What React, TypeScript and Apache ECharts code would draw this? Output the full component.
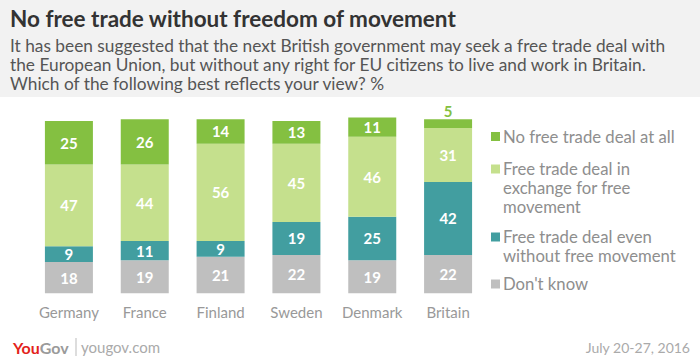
import React, { useEffect, useRef } from "react";
import * as echarts from "echarts";

const categories = ["Germany", "France", "Finland", "Sweden", "Denmark", "Britain"];
const seriesNames = [
  "No free trade deal at all",
  "Free trade deal in exchange for free movement",
  "Free trade deal even without free movement",
  "Don't know",
];
const noDeal = [25, 26, 14, 13, 11, 5];
const inExchange = [47, 44, 56, 45, 46, 31];
const evenWithout = [9, 11, 9, 19, 25, 42];
const dontKnow = [18, 19, 21, 22, 19, 22];
const legendLines = [
  ["No free trade deal at all"],
  ["Free trade deal in", "exchange for free", "movement"],
  ["Free trade deal even", "without free movement"],
  ["Don't know"],
];
const colors = ["#84c041", "#c5e08d", "#429ea0", "#bfbfbf"];
const FONT = "Lato, 'Open Sans', sans-serif";

export default function App() {
  const ref = useRef<HTMLDivElement>(null);
  useEffect(() => {
    if (!ref.current) return;
    const chart = echarts.init(ref.current, undefined, { renderer: "svg" });
    const stacks = [dontKnow, evenWithout, inExchange, noDeal];
    const stackColors = [colors[3], colors[2], colors[1], colors[0]];
    const stackNames = [seriesNames[3], seriesNames[2], seriesNames[1], seriesNames[0]];
    const series = stacks.map((arr, si) => ({
      name: stackNames[si],
      type: "bar",
      stack: "total",
      barWidth: 48,
      clip: false,
      itemStyle: { color: stackColors[si] },
      label: {
        show: true,
        position: "inside",
        color: "#ffffff",
        fontFamily: FONT,
        fontWeight: "bold",
        fontSize: 15,
      },
      data: arr.map((v) =>
        si === 3 && v < 8
          ? { value: v, label: { position: "top", distance: 1, color: colors[0] } }
          : v
      ),
    }));

    const legendGraphics: any[] = [];
    const legendTops = [136.5, 169, 237, 284];
    legendLines.forEach((lines, i) => {
      legendGraphics.push({
        type: "rect",
        shape: { x: 491, y: legendTops[i] - 4.5, width: 9, height: 9 },
        style: { fill: colors[i] },
      });
      legendGraphics.push({
        type: "text",
        x: 503,
        y: legendTops[i] - 9.5,
        style: {
          text: lines.join("\n"),
          fill: "#8e8e8e",
          font: `16.7px ${FONT}`,
          lineHeight: 19,
          verticalAlign: "top",
        },
      });
    });

    chart.setOption({
      animation: false,
      backgroundColor: "#ffffff",
      grid: { left: 31, right: 214, top: 119.3, bottom: 66.7, containLabel: false },
      xAxis: {
        type: "category",
        data: categories,
        axisLine: { show: false },
        axisTick: { show: false },
        axisLabel: {
          color: "#999999",
          fontFamily: FONT,
          fontSize: 15,
          margin: 11,
          interval: 0,
        },
      },
      yAxis: { type: "value", min: 0, max: 100, show: false },
      series,
      graphic: [
        {
          type: "rect",
          shape: { x: 0, y: 0, width: 700, height: 97 },
          style: { fill: "#f2f2f2" },
          z: -10,
        },
        {
          type: "text",
          x: 10,
          y: 7,
          style: {
            text: "No free trade without freedom of movement",
            fill: "#333333",
            font: `bold 22.5px ${FONT}`,
          },
        },
        {
          type: "text",
          x: 10,
          y: 36,
          style: {
            text:
              "It has been suggested that the next British government may seek a free trade deal with\nthe European Union, but without any right for EU citizens to live and work in Britain.\nWhich of the following best reflects your view? %",
            fill: "#555555",
            font: `17.3px ${FONT}`,
            lineHeight: 19,
          },
        },
        ...legendGraphics,
        {
          type: "text",
          x: 13,
          y: 347,
          style: {
            text: "{you|You}{gov|Gov}",
            verticalAlign: "middle",
            rich: {
              you: { fill: "#e3231b", font: `bold 16px ${FONT}` },
              gov: { fill: "#9a9a9a", font: `bold 16px ${FONT}` },
            },
          },
        },
        {
          type: "line",
          shape: { x1: 76, y1: 338, x2: 76, y2: 356 },
          style: { stroke: "#bbbbbb", lineWidth: 1 },
        },
        {
          type: "text",
          x: 81,
          y: 347,
          style: {
            text: "yougov.com",
            fill: "#aaaaaa",
            font: `15px ${FONT}`,
            verticalAlign: "middle",
          },
        },
        {
          type: "text",
          x: 690,
          y: 347,
          style: {
            text: "July 20-27, 2016",
            fill: "#aaaaaa",
            font: `14px ${FONT}`,
            align: "right",
            verticalAlign: "middle",
          },
        },
      ],
    });
    return () => chart.dispose();
  }, []);
  return (
    <div
      ref={ref}
      style={{ position: "fixed", left: 0, top: 0, width: 700, height: 360 }}
    />
  );
}
